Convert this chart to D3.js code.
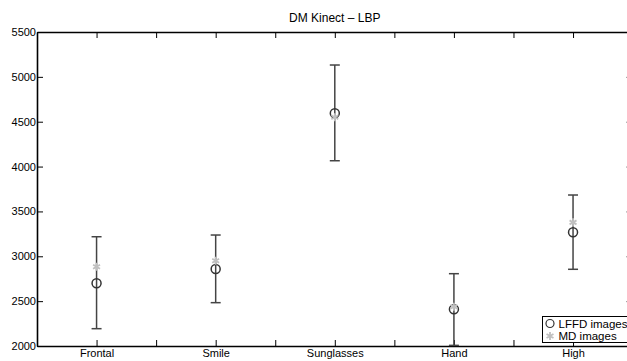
<!DOCTYPE html>
<html lang="en">
<head>
<meta charset="UTF-8">
<title>DM Kinect – LBP</title>
<script src="https://d3js.org/d3.v7.min.js"></script>
<style>
  body { margin: 0; background: #fff; font-family: "Liberation Sans", Arial, sans-serif; }
  svg { display: block; }
  .tick text { font-size: 11px; fill: #000; font-family: "Liberation Sans", Arial, sans-serif; }
</style>
</head>
<body>
<div id="chart"></div>
<script>
// values
const categories = ["Frontal", "Smile", "Sunglasses", "Hand", "High"];
const lffdValues = [2700, 2858, 4594, 2409, 3267];
const mdValues = [2884, 2950, 4549, 2438, 3378];
const errLow = [2193, 2483, 4065, 2007, 2855];
const errHigh = [3218, 3237, 5132, 2806, 3683];
const yTicks = [2000, 2500, 3000, 3500, 4000, 4500, 5000, 5500];
const legendLabels = ["LFFD images", "MD images"];

const W = 627, H = 361;
const plotLeft = 37, plotRight = 632.6, plotTop = 32, plotBottom = 346;

const svg = d3.select("#chart").append("svg").attr("width", W).attr("height", H);

const x = d3.scaleLinear().domain([0.5, 5.5]).range([plotLeft, plotRight]);
const y = d3.scaleLinear().domain([2000, 5500]).range([plotBottom, plotTop]);

const xTickVals = d3.range(1, 5.01, 0.5);
const xLabel = v => Number.isInteger(v) ? categories[v - 1] : "";

// axes (box style, ticks pointing inward)
const axStyle = g => {
  g.select(".domain").attr("stroke", "#000").attr("stroke-width", 1.6);
  g.selectAll(".tick line").attr("stroke", "#000").attr("stroke-width", 1);
};

svg.append("g").attr("transform", `translate(0,${plotBottom})`)
  .call(d3.axisBottom(x).tickValues(xTickVals).tickFormat(xLabel).tickSizeInner(-6).tickSizeOuter(0).tickPadding(3))
  .call(axStyle);
svg.append("g").attr("transform", `translate(0,${plotTop})`)
  .call(d3.axisTop(x).tickValues(xTickVals).tickFormat("").tickSizeInner(-6).tickSizeOuter(0))
  .call(axStyle);
svg.append("g").attr("transform", `translate(${plotLeft},0)`)
  .call(d3.axisLeft(y).tickValues(yTicks).tickFormat(d3.format("d")).tickSizeInner(-6).tickSizeOuter(0).tickPadding(1))
  .call(axStyle);
svg.append("g").attr("transform", `translate(${plotRight},0)`)
  .call(d3.axisRight(y).tickValues(yTicks).tickFormat("").tickSizeInner(-6).tickSizeOuter(0))
  .call(axStyle);

// title
svg.append("text").attr("x", (plotLeft + plotRight) / 2).attr("y", 22)
  .attr("text-anchor", "middle").attr("font-size", 12).text("DM Kinect \u2013 LBP");

const idx = d3.range(categories.length);

// error bars
const eb = svg.append("g").attr("stroke", "#444").attr("stroke-width", 1.5).attr("fill", "none");
idx.forEach(i => {
  const cx = x(i + 1);
  eb.append("line").attr("x1", cx).attr("x2", cx).attr("y1", y(errLow[i])).attr("y2", y(errHigh[i]));
  eb.append("line").attr("x1", cx - 5).attr("x2", cx + 5).attr("y1", y(errLow[i])).attr("y2", y(errLow[i]));
  eb.append("line").attr("x1", cx - 5).attr("x2", cx + 5).attr("y1", y(errHigh[i])).attr("y2", y(errHigh[i]));
});

const star = d3.symbol().type(d3.symbolAsterisk).size(45);

// LFFD images (open circles)
svg.append("g").selectAll("circle").data(idx).join("circle")
  .attr("cx", i => x(i + 1)).attr("cy", i => y(lffdValues[i])).attr("r", 4.5)
  .attr("stroke", "#333").attr("stroke-width", 1.5).attr("fill", "none");

// MD images (gray asterisks, drawn on top)
svg.append("g").selectAll("path").data(idx).join("path")
  .attr("d", star)
  .attr("transform", i => `translate(${x(i + 1)},${y(mdValues[i])})`)
  .attr("stroke", "#c0c0c0").attr("stroke-width", 1.8).attr("fill", "none");

// legend
const lg = svg.append("g");
lg.append("rect").attr("x", 542.5).attr("y", 316.5).attr("width", 100).attr("height", 26)
  .attr("fill", "#fff").attr("stroke", "#000").attr("stroke-width", 1);
lg.append("circle").attr("cx", 550).attr("cy", 323.5).attr("r", 4)
  .attr("stroke", "#333").attr("stroke-width", 1.2).attr("fill", "none");
lg.append("path").attr("d", star).attr("transform", "translate(550,336)")
  .attr("stroke", "#c0c0c0").attr("stroke-width", 1.8).attr("fill", "none");
legendLabels.forEach((t, i) => {
  lg.append("text").attr("x", 558.5).attr("y", 327.5 + i * 12.5).attr("font-size", 11.5).text(t);
});
</script>
</body>
</html>
